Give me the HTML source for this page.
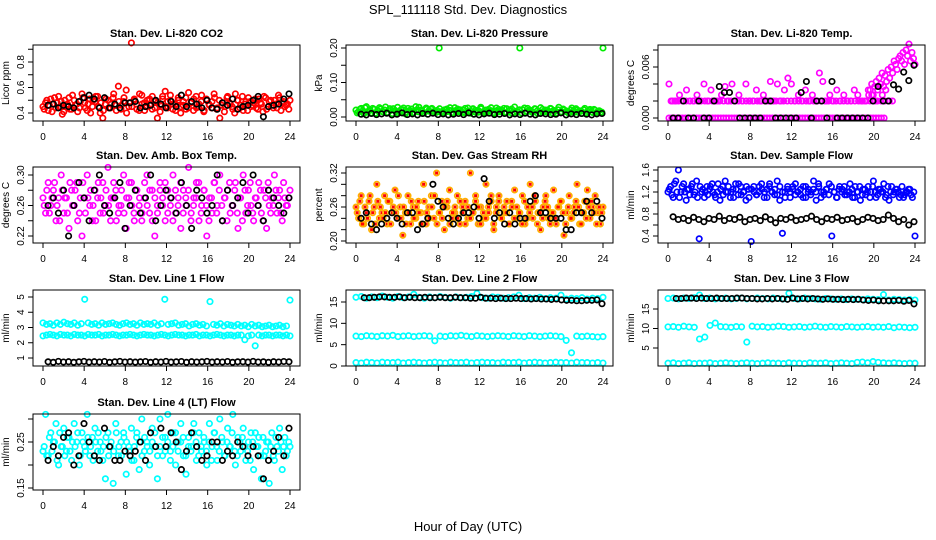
<!DOCTYPE html>
<html><head><meta charset="utf-8"><style>
html,body{margin:0;padding:0;background:#fff;width:936px;height:540px;overflow:hidden}
svg{display:block;font-family:"Liberation Sans",Arial,sans-serif}
</style></head><body>
<svg id="chart" width="936" height="540" viewBox="0 0 936 540" xmlns="http://www.w3.org/2000/svg">
<rect x="0" y="0" width="936" height="540" fill="#fff"/>
<text x="468" y="14" text-anchor="middle" font-size="13">SPL_111118  Std. Dev. Diagnostics</text>
<text x="468" y="531" text-anchor="middle" font-size="13">Hour of Day (UTC)</text>
</svg>
<script>
// ---- data (values per series; hours spread evenly over each series' time range) ----
const hourTicks = [0,4,8,12,16,20,24];
const co2Red = [0.45,0.48,0.42,0.51,0.47,0.44,0.53,0.49,0.41,0.46,0.52,0.43,0.5,0.47,0.44,0.55,0.48,0.42,0.51,0.45,0.49,0.53,0.4,0.36,0.47,0.5,0.44,0.52,0.46,0.61,0.43,0.49,0.58,0.45,0.95,0.5,0.47,0.42,0.54,0.48,0.45,0.51,0.43,0.49,0.36,0.46,0.53,0.57,0.44,0.5,0.47,0.42,0.52,0.45,0.49,0.43,0.56,0.48,0.51,0.44,0.47,0.54,0.42,0.5,0.46,0.49,0.52,0.44,0.36,0.48,0.45,0.53,0.47,0.43,0.55,0.5,0.46,0.42,0.49,0.52,0.45,0.48,0.44,0.51,0.47,0.53,0.43,0.49,0.46,0.5,0.44,0.52,0.48,0.45,0.47,0.5];
const co2Red2 = [0.43,0.5,0.46,0.41,0.52,0.48,0.45,0.39,0.5,0.47,0.43,0.54,0.46,0.41,0.49,0.52,0.44,0.47,0.4,0.5,0.53,0.45,0.48,0.42,0.51,0.44,0.47,0.55,0.42,0.49,0.46,0.52,0.4,0.48,0.45,0.51,0.43,0.55,0.47,0.42,0.5,0.46,0.53,0.44,0.48,0.41,0.51,0.45,0.49,0.54,0.43,0.47,0.5,0.4,0.46,0.52,0.44,0.48,0.42,0.53,0.45,0.49,0.41,0.51,0.47,0.44,0.55,0.43,0.5,0.46,0.41,0.52,0.48,0.45,0.4,0.5,0.44,0.53,0.47,0.42,0.49,0.46,0.51,0.43,0.48,0.41,0.52,0.45,0.5,0.44,0.47,0.54,0.42,0.49,0.46,0.43];
const co2Black = [0.46,0.47,0.44,0.46,0.45,0.44,0.49,0.52,0.54,0.51,0.44,0.52,0.44,0.47,0.44,0.48,0.48,0.49,0.44,0.45,0.46,0.5,0.47,0.44,0.49,0.45,0.54,0.45,0.49,0.47,0.44,0.5,0.44,0.43,0.48,0.46,0.51,0.43,0.45,0.46,0.5,0.53,0.37,0.45,0.46,0.47,0.51,0.55];
const presGreen = [0.02,0.015,0.025,0.01,0.03,0.018,0.012,0.022,0.008,0.027,0.016,0.02,0.013,0.024,0.01,0.019,0.028,0.014,0.021,0.009,0.025,0.017,0.012,0.03,0.015,0.02,0.011,0.026,0.018,0.022,0.016,0.014,0.2,0.016,0.012,0.023,0.019,0.01,0.027,0.015,0.021,0.013,0.025,0.017,0.011,0.024,0.019,0.014,0.028,0.016,0.012,0.022,0.018,0.01,0.026,0.015,0.02,0.013,0.024,0.017,0.011,0.029,0.014,0.2,0.021,0.012,0.025,0.018,0.014,0.023,0.01,0.027,0.016,0.02,0.013,0.024,0.019,0.011,0.028,0.015,0.021,0.017,0.012,0.026,0.014,0.02,0.018,0.01,0.025,0.016,0.022,0.013,0.019,0.015,0.012,0.2];
const presGreen2 = [0.012,0.022,0.017,0.027,0.014,0.02,0.025,0.011,0.018,0.023,0.015,0.029,0.013,0.019,0.024,0.016,0.011,0.021,0.026,0.014,0.018,0.023,0.013,0.02,0.028,0.016,0.012,0.022,0.017,0.025,0.014,0.019,0.024,0.011,0.021,0.016,0.027,0.013,0.018,0.023,0.015,0.02,0.012,0.026,0.017,0.022,0.014,0.019,0.024,0.011,0.02,0.016,0.027,0.013,0.018,0.022,0.015,0.025,0.012,0.019,0.023,0.014,0.017,0.021,0.011,0.026,0.016,0.02,0.013,0.024,0.018,0.012,0.022,0.015,0.019,0.025,0.011,0.017,0.021,0.014,0.023,0.016,0.012,0.02,0.018,0.024,0.013,0.017,0.021,0.011,0.019,0.015,0.022,0.013,0.018,0.014];
const presBlack = [0.008,0.006,0.01,0.007,0.009,0.011,0.006,0.008,0.012,0.007,0.009,0.006,0.01,0.008,0.011,0.007,0.009,0.006,0.008,0.01,0.007,0.012,0.008,0.006,0.009,0.011,0.007,0.008,0.01,0.006,0.009,0.007,0.011,0.008,0.006,0.01,0.009,0.007,0.008,0.012,0.006,0.009,0.007,0.01,0.008,0.006,0.009,0.01];
const tempMagZero = [0,0,0,0,0,0,0,0,0,0,0,0,0,0,0,0,0,0,0,0,0,0,0,0,0,0,0,0,0,0,0,0,0,0,0,0,0,0,0,0,0,0,0,0,0,0,0,0,0,0,0,0,0,0,0,0,0,0,0,0,0,0,0,0,0,0,0,0,0,0,0,0,0,0,0,0,0,0,0,0];
const tempMagMid = [0.004,0.002,0.002,0.0027,0.002,0.0033,0.002,0.002,0.0027,0.002,0.004,0.002,0.0033,0.002,0.002,0.0027,0.0037,0.002,0.004,0.002,0.0027,0.002,0.004,0.002,0.002,0.0033,0.002,0.0027,0.002,0.0043,0.002,0.004,0.002,0.0033,0.0047,0.004,0.002,0.0027,0.002,0.0033,0.002,0.0027,0.002,0.0053,0.0043,0.002,0.0027,0.002,0.0033,0.002,0.0027,0.002,0.002,0.0033,0.0027,0.002,0.002,0.0033,0.0027,0.002,0.0037,0.0027,0.0033,0.002];
const tempMagMid2 = [0.002,0.002,0.002,0.002,0.002,0.002,0.002,0.002,0.002,0.002,0.002,0.002,0.002,0.002,0.002,0.002,0.002,0.002,0.002,0.002,0.002,0.002,0.002,0.002,0.002,0.002,0.002,0.002,0.002,0.002,0.002,0.002,0.002,0.002,0.002,0.002,0.002,0.002,0.002,0.002,0.002,0.002,0.002,0.002,0.002,0.002,0.002,0.002,0.002,0.002,0.002,0.002,0.002,0.002,0.002,0.002,0.002,0.002,0.002,0.002];
const tempMagLate = [0.0027,0.0033,0.004,0.0027,0.0037,0.0043,0.0033,0.0047,0.004,0.0053,0.0037,0.005,0.0043,0.0057,0.0047,0.006,0.0053,0.0067,0.0063,0.0057,0.007,0.0073,0.0067,0.0077,0.0063,0.008,0.0073,0.0087,0.0067,0.0077,0.007,0.0063];
const tempBlack = [0,0,0.002,0,0,0.002,0,0,0.002,0.0037,0.003,0.003,0.002,0,0,0,0,0,0.002,0.002,0,0,0,0,0,0.003,0.0043,0,0.002,0.002,0,0.0043,0,0,0,0,0,0,0,0.002,0.0037,0.002,0.002,0.0039,0.0034,0.0054,0.0044,0.0062];
const ambMag = [0.27,0.25,0.29,0.26,0.28,0.24,0.27,0.3,0.25,0.27,0.23,0.28,0.26,0.29,0.25,0.22,0.27,0.3,0.26,0.24,0.28,0.27,0.25,0.29,0.26,0.31,0.24,0.27,0.28,0.25,0.26,0.3,0.23,0.27,0.29,0.25,0.28,0.26,0.24,0.27,0.3,0.25,0.28,0.22,0.26,0.29,0.27,0.24,0.28,0.26,0.3,0.25,0.27,0.23,0.28,0.26,0.31,0.25,0.27,0.29,0.24,0.26,0.28,0.22,0.27,0.25,0.29,0.26,0.3,0.24,0.27,0.28,0.25,0.26,0.29,0.23,0.27,0.3,0.25,0.28,0.26,0.24,0.27,0.29,0.25,0.28,0.23,0.26,0.27,0.3,0.25,0.28,0.24,0.27,0.26,0.28];
const ambMag2 = [0.26,0.28,0.25,0.27,0.29,0.26,0.24,0.28,0.27,0.25,0.29,0.26,0.28,0.24,0.27,0.29,0.25,0.27,0.28,0.26,0.24,0.29,0.27,0.25,0.28,0.26,0.27,0.29,0.24,0.26,0.28,0.25,0.27,0.29,0.26,0.24,0.28,0.27,0.25,0.29,0.26,0.28,0.24,0.27,0.25,0.28,0.26,0.29,0.25,0.27,0.24,0.28,0.26,0.29,0.25,0.27,0.28,0.24,0.26,0.27,0.29,0.25,0.28,0.26,0.24,0.27,0.29,0.25,0.28,0.26,0.27,0.24,0.29,0.26,0.28,0.25,0.27,0.24,0.28,0.26,0.29,0.25,0.27,0.26,0.28,0.24,0.27,0.29,0.25,0.26,0.28,0.27,0.25,0.29,0.26,0.27];
const ambBlack = [0.26,0.27,0.25,0.28,0.22,0.26,0.29,0.27,0.24,0.28,0.3,0.26,0.25,0.27,0.29,0.23,0.26,0.28,0.25,0.27,0.3,0.24,0.26,0.28,0.27,0.25,0.29,0.26,0.23,0.28,0.27,0.25,0.26,0.3,0.24,0.28,0.26,0.27,0.29,0.25,0.3,0.26,0.24,0.28,0.27,0.26,0.25,0.27];
const rhOrange = [0.26,0.24,0.28,0.23,0.25,0.27,0.22,0.26,0.3,0.24,0.25,0.28,0.23,0.27,0.25,0.29,0.24,0.26,0.21,0.25,0.28,0.23,0.26,0.24,0.27,0.25,0.3,0.23,0.26,0.28,0.24,0.32,0.25,0.27,0.22,0.26,0.29,0.24,0.25,0.28,0.23,0.26,0.27,0.24,0.32,0.25,0.28,0.23,0.26,0.24,0.3,0.25,0.27,0.22,0.26,0.28,0.24,0.25,0.27,0.23,0.26,0.29,0.24,0.25,0.28,0.23,0.26,0.3,0.24,0.27,0.25,0.22,0.26,0.28,0.24,0.25,0.29,0.23,0.26,0.27,0.21,0.25,0.28,0.24,0.26,0.3,0.23,0.25,0.27,0.29,0.24,0.26,0.28,0.25,0.23,0.26];
const rhOrange2 = [0.25,0.27,0.23,0.26,0.24,0.28,0.25,0.23,0.27,0.26,0.24,0.25,0.27,0.23,0.26,0.25,0.28,0.24,0.26,0.23,0.25,0.27,0.24,0.26,0.25,0.23,0.27,0.25,0.24,0.26,0.28,0.23,0.25,0.24,0.26,0.27,0.23,0.25,0.26,0.24,0.27,0.25,0.23,0.26,0.24,0.25,0.27,0.26,0.23,0.25,0.24,0.26,0.28,0.23,0.25,0.27,0.24,0.26,0.25,0.23,0.27,0.24,0.26,0.25,0.23,0.27,0.24,0.25,0.26,0.28,0.23,0.25,0.24,0.27,0.26,0.23,0.25,0.24,0.26,0.27,0.25,0.23,0.26,0.24,0.25,0.27,0.26,0.23,0.25,0.24,0.26,0.27,0.25,0.23,0.26,0.25];
const rhBlack = [0.24,0.25,0.23,0.22,0.23,0.24,0.25,0.24,0.23,0.25,0.25,0.22,0.23,0.24,0.3,0.27,0.26,0.24,0.23,0.24,0.25,0.25,0.26,0.24,0.31,0.27,0.24,0.25,0.23,0.25,0.23,0.24,0.24,0.27,0.28,0.25,0.25,0.24,0.24,0.24,0.22,0.22,0.25,0.25,0.27,0.25,0.27,0.24];
const flowBlue = [1.2,1.3,1.1,1.4,1.6,1.2,1.35,1.05,1.25,1.3,1.15,1.4,0.35,1.2,1.1,1.3,1.25,1.35,1.15,1.2,1.05,1.3,1.4,1.2,1.1,1.25,1.35,1.15,1.3,1.2,1.05,1.25,0.3,1.3,1.15,1.2,1.35,1.1,1.25,1.3,1.2,1.15,1.4,1.05,0.45,1.2,1.3,1.1,1.25,1.35,1.2,1.15,1.3,1.1,1.25,1.2,1.4,1.05,1.3,1.2,1.15,1.25,1.35,0.4,1.2,1.1,1.3,1.25,1.15,1.2,1.35,1.1,1.3,1.2,1.05,1.25,1.15,1.3,1.2,1.4,1.1,1.25,1.2,1.35,1.15,1.05,1.3,1.2,1.25,1.1,1.3,1.15,1.2,1.25,1.1,0.4];
const flowBlue2 = [1.25,1.15,1.35,1.2,1.1,1.3,1.2,1.25,1.15,1.35,1.2,1.1,1.3,1.25,1.2,1.15,1.3,1.2,1.1,1.35,1.25,1.15,1.2,1.3,1.2,1.1,1.25,1.35,1.15,1.2,1.3,1.1,1.25,1.2,1.15,1.3,1.25,1.2,1.1,1.35,1.2,1.25,1.15,1.3,1.2,1.1,1.25,1.2,1.3,1.15,1.2,1.25,1.1,1.3,1.2,1.15,1.25,1.2,1.35,1.1,1.2,1.25,1.15,1.3,1.2,1.1,1.25,1.2,1.3,1.15,1.2,1.25,1.1,1.2,1.3,1.15,1.25,1.2,1.1,1.3,1.2,1.15,1.25,1.2,1.1,1.3,1.2,1.15,1.25,1.2,1.15,1.1,1.2,1.25,1.15,1.2];
const flowBlack = [0.75,0.7,0.72,0.68,0.74,0.7,0.66,0.72,0.7,0.76,0.68,0.72,0.7,0.74,0.66,0.7,0.72,0.68,0.75,0.7,0.64,0.72,0.7,0.74,0.68,0.7,0.72,0.76,0.7,0.66,0.72,0.7,0.74,0.68,0.7,0.72,0.66,0.7,0.74,0.72,0.68,0.7,0.78,0.72,0.66,0.7,0.6,0.66];
const l1Upper = [3.3,3.2,3.25,3.15,3.3,3.2,3.35,3.25,3.2,3.3,3.15,3.25,4.85,3.3,3.2,3.25,3.15,3.3,3.2,3.25,3.3,3.2,3.15,3.25,3.3,3.2,3.25,3.15,3.3,3.2,3.25,3.2,3.3,3.15,3.25,4.85,3.2,3.25,3.3,3.15,3.2,3.25,3.1,3.2,3.25,3.15,3.2,3.1,4.7,3.2,3.15,3.25,3.1,3.2,3.15,3.1,3.2,3.1,3.15,3.05,3.2,3.1,3.15,3.05,3.1,3.15,3.05,3.1,3.15,3.05,3.1,4.8];
const l1Lower = [2.45,2.5,2.55,2.5,2.45,2.55,2.5,2.5,2.45,2.55,2.5,2.5,2.45,2.55,2.5,2.5,2.55,2.45,2.5,2.5,2.55,2.5,2.45,2.5,2.5,2.55,2.5,2.45,2.5,2.55,2.5,2.5,2.45,2.5,2.55,2.5,2.45,2.5,2.55,2.5,2.5,2.45,2.5,2.5,2.55,2.45,2.5,2.5,2.45,2.5,2.55,2.5,2.45,2.5,2.5,2.45,2.5,2.5,2.2,2.45,2.5,1.8,2.5,2.45,2.5,2.5,2.45,2.5,2.5,2.45,2.5,2.45];
const l1Black = [0.75,0.72,0.78,0.74,0.76,0.72,0.75,0.78,0.73,0.76,0.74,0.77,0.72,0.75,0.78,0.74,0.76,0.73,0.75,0.77,0.72,0.76,0.74,0.78,0.73,0.75,0.77,0.72,0.76,0.74,0.75,0.78,0.73,0.76,0.74,0.77,0.72,0.75,0.76,0.73,0.78,0.74,0.75,0.72,0.76,0.74,0.77,0.75];
const l2Upper = [16.1,16.3,15.9,16.2,16.0,16.4,16.1,15.9,16.3,16.0,16.2,16.8,16.1,15.9,16.2,16.0,16.3,16.1,15.9,16.2,16.0,16.1,16.3,17.0,16.0,15.9,16.2,16.1,15.9,16.0,16.2,16.6,15.8,16.0,15.9,16.1,15.8,16.0,15.9,16.6,15.7,15.9,15.8,16.0,15.7,15.9,15.8,16.1];
const l2Mid = [7.0,6.9,7.1,7.0,6.9,7.1,7.0,7.2,6.9,7.0,7.1,6.9,7.0,7.1,7.0,5.9,7.0,6.9,7.1,7.0,7.2,7.0,6.9,7.1,7.0,6.9,7.0,7.1,7.0,6.9,7.1,7.0,6.9,7.1,7.0,6.9,7.0,7.1,7.0,6.9,6.0,3.1,7.0,6.9,7.0,6.9,6.8,6.9];
const l2Low = [0.8,0.7,0.9,0.8,0.7,0.9,0.8,0.8,0.9,0.7,0.8,0.9,0.8,0.7,0.8,0.9,0.8,0.7,0.9,0.8,0.8,0.9,0.7,0.8,0.9,0.8,0.8,0.7,0.9,0.8,0.8,0.9,0.7,0.8,0.9,0.8,0.7,0.8,0.9,0.8,0.8,0.7,0.9,0.8,0.8,0.7,0.8,0.7];
const l2Black = [16.0,16.0,16.1,16.2,16.2,16.1,16.1,16.2,16.0,16.1,16.0,16.0,16.1,16.0,16.0,16.1,16.0,16.0,16.1,16.0,16.0,15.9,15.9,16.1,15.9,15.9,15.8,15.9,15.8,15.8,15.9,15.8,15.8,15.7,15.8,15.7,15.7,15.6,15.7,15.5,15.4,15.4,15.3,15.3,15.4,15.4,15.5,14.6];
const l3Upper = [17.7,17.8,17.6,17.8,17.7,17.9,18.6,17.7,17.8,17.6,17.7,17.8,17.6,17.7,17.8,17.6,17.7,17.8,17.7,17.6,17.8,17.7,17.6,19.0,17.7,17.6,17.8,17.7,17.6,17.5,17.7,17.6,17.5,17.6,17.4,17.6,17.5,17.4,17.6,17.5,17.4,18.7,17.3,17.5,17.4,17.3,17.4,17.3];
const l3Mid = [10.4,10.5,10.3,10.6,10.4,10.3,7.3,7.8,10.8,11.4,10.5,10.4,10.3,10.5,10.4,6.5,10.6,10.4,10.5,10.3,10.4,10.6,10.5,10.3,10.4,10.5,10.3,10.4,10.6,10.4,10.3,10.5,10.4,10.3,10.5,10.4,10.3,10.4,10.5,10.3,10.4,10.3,10.5,10.2,10.4,10.3,10.2,10.3];
const l3Low = [1.1,1.2,1.0,1.1,1.2,1.0,1.1,1.1,1.2,1.0,1.1,1.2,1.1,1.0,1.1,1.2,1.1,1.0,1.1,1.2,1.1,1.1,1.0,1.2,1.1,1.1,1.0,1.2,1.1,1.1,1.2,1.0,1.1,1.2,1.1,1.0,1.3,1.4,1.2,1.5,1.3,1.2,1.1,1.2,1.1,1.0,1.1,1.1];
const l3Black = [17.7,17.7,17.8,17.8,17.7,17.8,17.7,17.7,17.8,17.7,17.7,17.7,17.8,17.8,17.7,17.7,17.6,17.6,17.7,17.6,17.7,17.6,17.5,17.8,17.6,17.7,17.6,17.7,17.6,17.5,17.6,17.5,17.5,17.4,17.5,17.4,17.5,17.3,17.2,17.3,17.1,17.1,17.1,17.1,17.2,17.0,17.2,16.3];
const l4Cyan = [0.23,0.31,0.22,0.27,0.25,0.29,0.2,0.24,0.28,0.23,0.26,0.21,0.29,0.25,0.2,0.27,0.24,0.31,0.22,0.26,0.28,0.23,0.25,0.21,0.17,0.27,0.24,0.16,0.29,0.22,0.25,0.27,0.18,0.24,0.28,0.21,0.26,0.19,0.3,0.23,0.25,0.2,0.28,0.24,0.17,0.3,0.22,0.26,0.31,0.23,0.27,0.2,0.25,0.29,0.22,0.18,0.26,0.24,0.29,0.21,0.27,0.23,0.25,0.2,0.29,0.24,0.27,0.21,0.3,0.25,0.22,0.28,0.24,0.31,0.2,0.26,0.23,0.28,0.21,0.25,0.27,0.19,0.24,0.26,0.17,0.22,0.25,0.16,0.27,0.21,0.24,0.28,0.19,0.26,0.23,0.24];
const l4Cyan2 = [0.24,0.22,0.26,0.23,0.25,0.21,0.27,0.24,0.22,0.26,0.23,0.25,0.24,0.27,0.22,0.25,0.23,0.26,0.24,0.21,0.25,0.27,0.23,0.24,0.26,0.22,0.25,0.23,0.27,0.24,0.22,0.26,0.25,0.23,0.21,0.24,0.27,0.25,0.22,0.26,0.24,0.23,0.25,0.27,0.22,0.24,0.26,0.23,0.25,0.21,0.24,0.27,0.23,0.25,0.26,0.22,0.24,0.23,0.27,0.25,0.22,0.24,0.26,0.23,0.25,0.21,0.27,0.24,0.23,0.26,0.22,0.25,0.24,0.27,0.23,0.22,0.25,0.26,0.24,0.23,0.21,0.25,0.27,0.24,0.22,0.26,0.23,0.25,0.24,0.22,0.26,0.23,0.25,0.24,0.22,0.25];
const l4Black = [0.21,0.24,0.22,0.26,0.27,0.2,0.22,0.29,0.25,0.22,0.21,0.28,0.24,0.21,0.21,0.23,0.22,0.23,0.25,0.21,0.27,0.24,0.28,0.24,0.27,0.25,0.19,0.23,0.27,0.24,0.21,0.22,0.25,0.25,0.21,0.23,0.22,0.25,0.24,0.22,0.24,0.22,0.17,0.21,0.23,0.26,0.22,0.28];

// ---- layout ----
const colX = [33, 346, 658], rowY = [45, 167, 290, 414], BW = 267, BH = 76;
const A = [0.12, 23.88];
const panels = [
 {name:'co2', title:'Stan. Dev. Li-820 CO2', ylab:'Licor ppm', c:0,r:0, m:[0.4,113,0.8,62], ticks:[0.4,0.5,0.6,0.7,0.8,0.9], labs:['0.4','0.6','0.8'], labAt:[0.4,0.6,0.8],
  series:[{v:co2Red,col:'#ff0000',h:[0,24]},{v:co2Red2,col:'#ff0000',h:A},{v:co2Black,col:'#000',h:[0.5,23.9]}]},
 {name:'pressure', title:'Stan. Dev. Li-820 Pressure', ylab:'kPa', c:1,r:0, m:[0,117,0.2,48], ticks:[0,0.05,0.1,0.15,0.2], labs:['0.00','0.10','0.20'], labAt:[0,0.1,0.2],
  series:[{v:presGreen,col:'#00ee00',h:[0,24]},{v:presGreen2,col:'#00ee00',h:A},{v:presBlack,col:'#000',h:[0.5,23.9]}]},
 {name:'temp', title:'Stan. Dev. Li-820 Temp.', ylab:'degrees C', c:2,r:0, m:[0,118,0.006,67], ticks:[0,0.002,0.004,0.006,0.008], labs:['0.000','0.006'], labAt:[0,0.006],
  series:[{v:tempMagZero,col:'#ff00ff',h:[0.1,21]},{v:tempMagMid,col:'#ff00ff',h:[0.1,21.5]},{v:tempMagMid2,col:'#ff00ff',h:[0.3,21.8]},{v:tempMagLate,col:'#ff00ff',h:[19.5,24]},{v:tempBlack,col:'#000',h:[0.5,23.9]}]},
 {name:'amb-temp', title:'Stan. Dev. Amb. Box Temp.', ylab:'degrees C', c:0,r:1, m:[0.22,236,0.30,175], ticks:[0.22,0.24,0.26,0.28,0.30], labs:['0.22','0.26','0.30'], labAt:[0.22,0.26,0.30],
  series:[{v:ambMag,col:'#ff00ff',h:[0,24]},{v:ambMag2,col:'#ff00ff',h:A},{v:ambBlack,col:'#000',h:[0.5,23.9]}]},
 {name:'rh', title:'Stan. Dev. Gas Stream RH', ylab:'percent', c:1,r:1, m:[0.20,241,0.32,173], ticks:[0.20,0.22,0.24,0.26,0.28,0.30,0.32], labs:['0.20','0.26','0.32'], labAt:[0.20,0.26,0.32],
  series:[{v:rhOrange,col:'#ffb000',dot:'#ff0000',h:[0,24]},{v:rhOrange2,col:'#ffb000',dot:'#ff0000',h:A},{v:rhBlack,col:'#000',h:[0.5,23.9]}]},
 {name:'sample-flow', title:'Stan. Dev. Sample Flow', ylab:'ml/min', c:2,r:1, m:[0.4,236,1.6,170], ticks:[0.4,0.6,0.8,1.0,1.2,1.4,1.6], labs:['0.4','0.8','1.2','1.6'], labAt:[0.4,0.8,1.2,1.6],
  series:[{v:flowBlue,col:'#0000ff',h:[0,24]},{v:flowBlue2,col:'#0000ff',h:A},{v:flowBlack,col:'#000',h:[0.5,23.9]}]},
 {name:'line1', title:'Stan. Dev. Line 1 Flow', ylab:'ml/min', c:0,r:2, m:[1,358,5,297], ticks:[1,2,3,4,5], labs:['1','2','3','4','5'], labAt:[1,2,3,4,5],
  series:[{v:l1Upper,col:'#00ffff',h:[0,24]},{v:l1Lower,col:'#00ffff',h:[0,24]},{v:l1Black,col:'#000',h:[0.5,23.9]}]},
 {name:'line2', title:'Stan. Dev. Line 2 Flow', ylab:'ml/min', c:1,r:2, m:[0,366,15,302], ticks:[0,5,10,15], labs:['0','5','10','15'], labAt:[0,5,10,15],
  series:[{v:l2Upper,col:'#00ffff',h:[0,24]},{v:l2Mid,col:'#00ffff',h:[0,24]},{v:l2Low,col:'#00ffff',h:[0,24]},{v:l2Black,col:'#000',h:[0.8,23.9]}]},
 {name:'line3', title:'Stan. Dev. Line 3 Flow', ylab:'ml/min', c:2,r:2, m:[5,348,15,309], ticks:[5,10,15], labs:['5','10','15'], labAt:[5,10,15],
  series:[{v:l3Upper,col:'#00ffff',h:[0,24]},{v:l3Mid,col:'#00ffff',h:[0,24]},{v:l3Low,col:'#00ffff',h:[0,24]},{v:l3Black,col:'#000',h:[0.8,23.9]}]},
 {name:'line4', title:'Stan. Dev. Line 4 (LT) Flow', ylab:'ml/min', c:0,r:3, m:[0.15,488,0.25,442], ticks:[0.15,0.20,0.25,0.30], labs:['0.15','0.25'], labAt:[0.15,0.25],
  series:[{v:l4Cyan,col:'#00ffff',h:[0,24]},{v:l4Cyan2,col:'#00ffff',h:A},{v:l4Black,col:'#000',h:[0.5,23.9]}]}
];

const NS = 'http://www.w3.org/2000/svg';
const svg = document.getElementById('chart');
function mk(tag, attrs, parent, txt) {
  const e = document.createElementNS(NS, tag);
  for (const k in attrs) e.setAttribute(k, attrs[k]);
  if (txt !== undefined) e.textContent = txt;
  parent.appendChild(e);
  return e;
}
panels.forEach(p => {
  const L = colX[p.c], T = rowY[p.r], B = T + BH;
  const g = mk('g', {}, svg);
  
  
  const xs = h => L + 10 + h / 24 * 247;
  const ys = v => p.m[1] + (v - p.m[0]) * (p.m[3] - p.m[1]) / (p.m[2] - p.m[0]);
  const t = mk('text', {x: L + BW / 2, y: T - 8, 'text-anchor': 'middle', 'font-size': 11, 'font-weight': 'bold'}, g, p.title);
  
  
  const yl = mk('text', {x: 0, y: 0, 'text-anchor': 'middle', 'font-size': 10, transform: `translate(${L - 24},${T + BH / 2}) rotate(-90)`}, g, p.ylab);
  
  
  const pg = mk('g', {fill: 'none', 'stroke-width': 1.7}, g);
  
  
  p.series.forEach(s => {
    const n = s.v.length;
    s.v.forEach((v, i) => {
      const h = s.h[0] + (n > 1 ? i * (s.h[1] - s.h[0]) / (n - 1) : 0);
      const cx = xs(h), cy = ys(v);
      const c = mk('circle', {cx: cx.toFixed(1), cy: cy.toFixed(1), r: 2.7, stroke: s.col}, pg);
      
      
      if (s.dot) {
        const d = mk('rect', {x: (cx - 1.5).toFixed(1), y: (cy - 1.5).toFixed(1), width: 3, height: 3, fill: s.dot, stroke: 'none'}, pg);
        
        
      }
    });
  });
  const box = mk('rect', {x: L, y: T, width: BW, height: BH, fill: 'none', stroke: '#000', 'stroke-width': 1}, g);
  
  
  const xa = mk('g', {stroke: '#000', 'stroke-width': 1}, g);
  
  
  mk('line', {x1: xs(0), x2: xs(24), y1: B, y2: B}, xa);
  hourTicks.forEach(h => {
    mk('line', {x1: xs(h), x2: xs(h), y1: B, y2: B + 5}, xa);
    const lt = mk('text', {x: xs(h), y: B + 19, 'text-anchor': 'middle', 'font-size': 10, stroke: 'none', fill: '#000'}, xa, String(h));
    
    
  });
  const ya = mk('g', {stroke: '#000', 'stroke-width': 1}, g);
  
  
  mk('line', {x1: L, x2: L, y1: ys(p.ticks[0]), y2: ys(p.ticks[p.ticks.length - 1])}, ya);
  p.ticks.forEach(v => mk('line', {x1: L - 5, x2: L, y1: ys(v), y2: ys(v)}, ya));
  p.labAt.forEach((v, i) => {
    const lt = mk('text', {x: 0, y: 0, 'text-anchor': 'middle', 'font-size': 10, stroke: 'none', fill: '#000', transform: `translate(${L - 9},${ys(v)}) rotate(-90)`}, ya, p.labs[i]);
    
    
  });
});
</script>
</body></html>
